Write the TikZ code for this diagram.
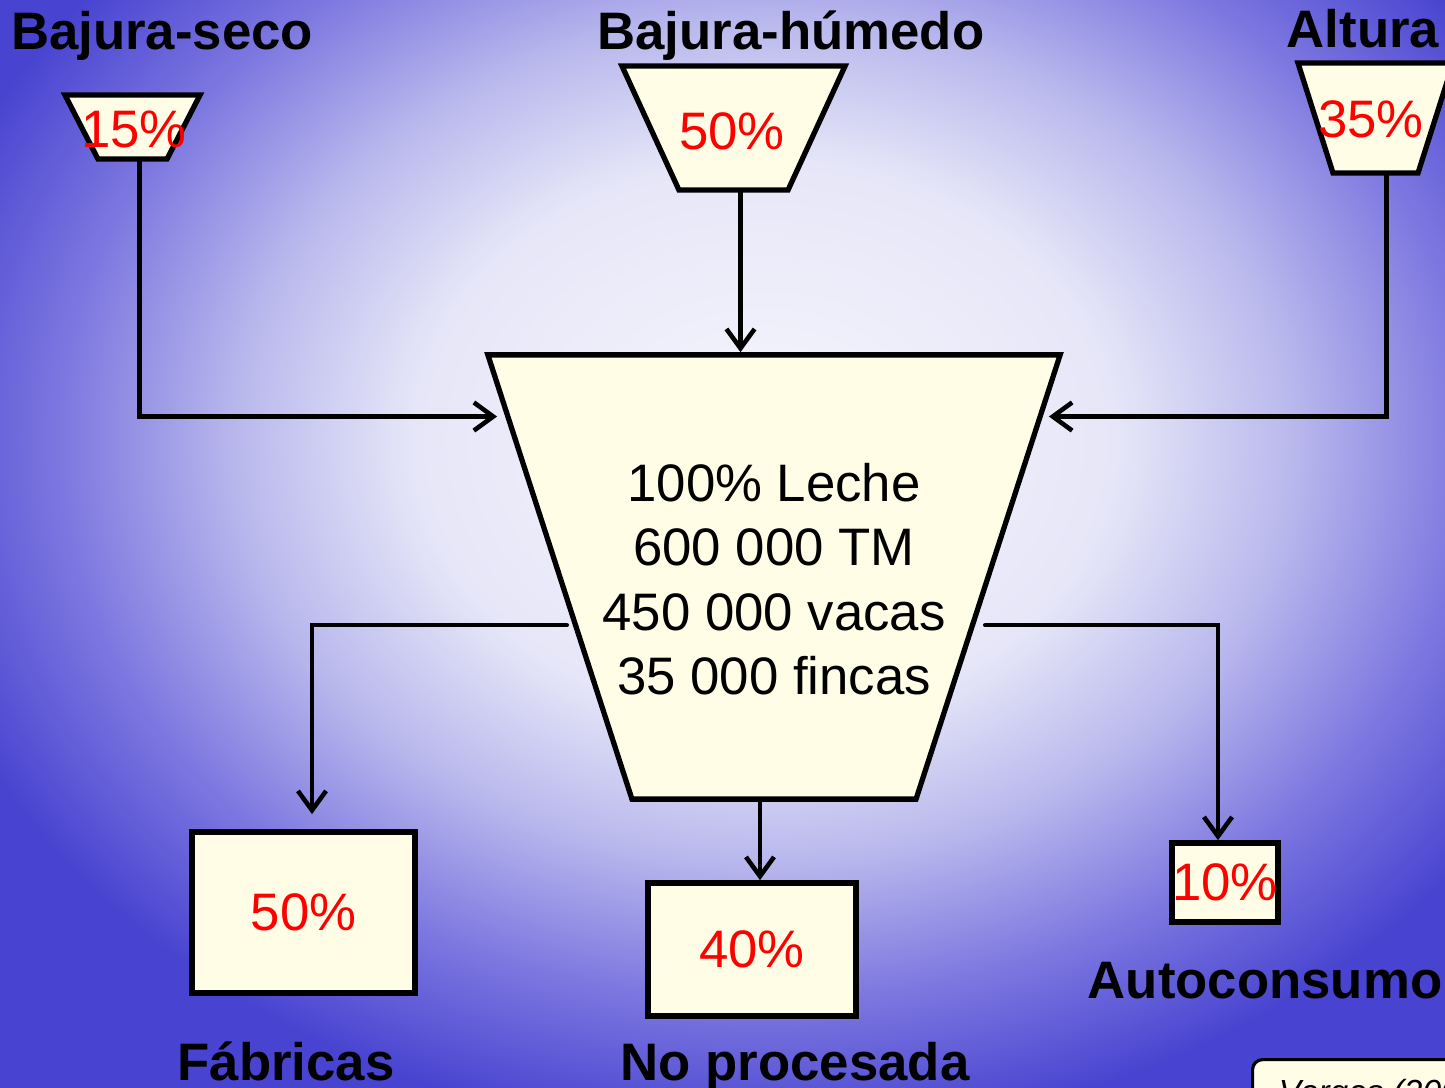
\documentclass[tikz,border=0pt]{standalone}
\usepackage{fontspec}
\setmainfont{Liberation Sans}
\usetikzlibrary{shapes.geometric,arrows.meta,calc}
\definecolor{cream}{RGB}{255,253,229}
\pgfdeclareradialshading{glow}{\pgfpoint{0bp}{0bp}}{rgb(0bp)=(0.965,0.965,0.992); rgb(10bp)=(0.902,0.902,0.973); rgb(15bp)=(0.725,0.722,0.929); rgb(20bp)=(0.49,0.47,0.878); rgb(25bp)=(0.282,0.263,0.816); rgb(50bp)=(0.282,0.263,0.816)}

\begin{document}
\begin{tikzpicture}[x=0.01cm,y=-0.01cm,
    funnel/.style={trapezium,trapezium stretches=true,draw,line width=1.5pt,fill=cream,inner sep=1pt},
    box/.style={rectangle,draw,line width=1.6pt,fill=cream,inner sep=0pt,text=red,font=\fontsize{15}{18}\selectfont},
    pct/.style={text=red,font=\fontsize{15}{18}\selectfont,anchor=base},
    title/.style={font=\bfseries\fontsize{15}{18}\selectfont,anchor=base},
    flow/.style={line width=1.3pt,line cap=round,-{Straight Barb[length=5.5pt,width=8pt]}}]

    \useasboundingbox (0,0) rectangle (1445,1088);
    \clip (0,0) rectangle (1445,1088);
    \shade[shading=glow] (-115,-260) rectangle (1645,1140);

    \node[funnel,trapezium angle=115.55,minimum width=1.35cm,minimum height=0.64cm] (seco) at (132.5,127) {};
    \node[funnel,trapezium angle=117.6,minimum width=2.23cm,minimum height=1.24cm] (humedo) at (733.5,128) {};
    \node[funnel,trapezium angle=112.4,minimum width=1.55cm,minimum height=1.10cm] (altura) at (1375.5,118) {};
    \node[funnel,trapezium angle=116.9,minimum width=5.72cm,minimum height=4.44cm] (big) at (774,577) {};

    \node[title] (t_seco) at (162,50) {Bajura-seco};
    \node[title] (t_humedo) at (791,50) {Bajura-húmedo};
    \node[title] (t_altura) at (1363,48) {Altura};

    \node[pct] (p_seco) at (134,148) {15\%};
    \node[pct] (p_humedo) at (732,150) {50\%};
    \node[pct] (p_altura) at (1371,138) {35\%};

    \node[font=\fontsize{15}{18.35}\selectfont,align=center] (leche) at (774,579) {100\% Leche\\600 000 TM\\450 000 vacas\\35 000 fincas};

    \node[box,minimum width=2.23cm,minimum height=1.61cm] (fab) at (303.5,912.5) {50\%};
    \node[box,minimum width=2.08cm,minimum height=1.33cm] (noproc) at (752,949.5) {40\%};
    \node[box,minimum width=1.02cm,minimum height=0.79cm] (auto) at (1225,882.5) {10\%};

    \node[title] (t_fab) at (286,1080) {Fábricas};
    \node[title] (t_noproc) at (795,1080) {No procesada};
    \node[title] (t_auto) at (1265,998) {Autoconsumo};

    \node[draw,fill=cream,line width=0.9pt,rounded corners=0.1cm,anchor=north west,inner xsep=7.5pt,inner ysep=5.5pt,font=\itshape\fontsize{9.5}{11}\selectfont] (src) at (1251,1058) {Vargas (200\hspace{2cm}};

    \draw[flow] ([xshift=0.07cm]seco.south) |- ($(big.top left corner)!0.143!(big.bottom left corner)+(-8,0)$);
    \draw[flow] ([xshift=0.07cm]humedo.south) -- ([xshift=0.07cm]humedo.south |- big.north);
    \draw[flow] ([xshift=0.11cm]altura.south) |- ($(big.top right corner)!0.143!(big.bottom right corner)+(6,0)$);
    \draw[flow] ($(big.top left corner)!0.607!(big.bottom left corner)+(-6,0)$) -| ([xshift=0.085cm,yshift=0.15cm]fab.north);
    \draw[flow] ($(big.top right corner)!0.607!(big.bottom right corner)+(10,0)$) -| ([xshift=-0.07cm]auto.north);
    \draw[flow] ([xshift=-0.14cm]big.south) -- ([xshift=-0.14cm]big.south |- noproc.north);
\end{tikzpicture}
\end{document}
